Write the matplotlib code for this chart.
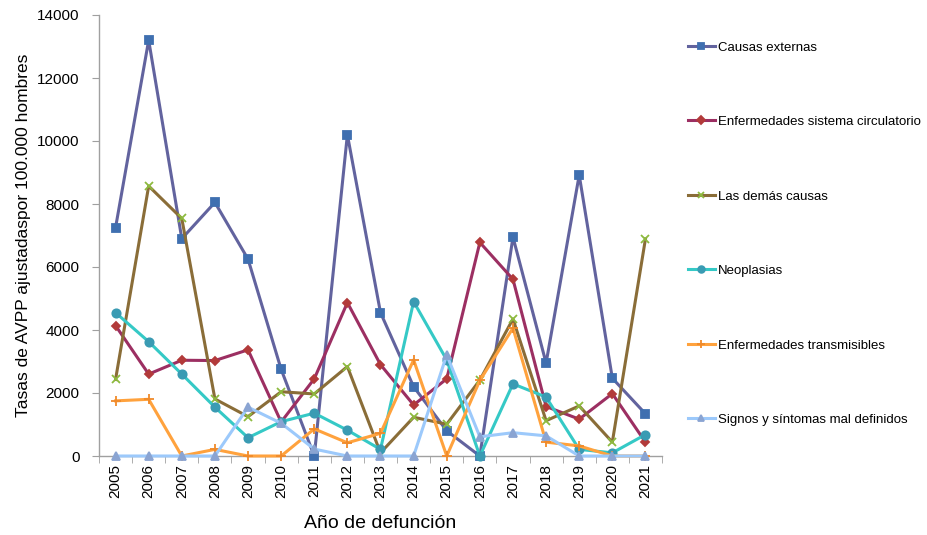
import numpy as np
import matplotlib
matplotlib.use("Agg")
import matplotlib.pyplot as plt
from matplotlib.ticker import FixedLocator

plt.rcParams["font.family"] = ["Liberation Sans", "DejaVu Sans"]

years = [str(y) for y in range(2005, 2022)]

causas_externas = [7250, 13200, 6900, 8050, 6250, 2750, 0, 10200, 4550,
                   2200, 800, 0, 6950, 2950, 8920, 2470, 1340]
circulatorio = [4140, 2600, 3040, 3030, 3370, 1080, 2450, 4870, 2900,
                1620, 2450, 6780, 5610, 1570, 1170, 1980, 440]
demas_causas = [2430, 8570, 7540, 1810, 1250, 2040, 1970, 2840, 100,
                1230, 1010, 2410, 4350, 1120, 1590, 440, 6890]
neoplasias = [4550, 3630, 2600, 1550, 580, 1090, 1360, 820, 210,
              4900, 3050, 0, 2290, 1870, 210, 100, 680]
transmisibles = [1750, 1800, 0, 210, 0, 0, 860, 420, 720,
                 3050, 0, 2400, 4060, 440, 320, 0, 0]
signos = [0, 0, 0, 0, 1550, 1040, 220, 0, 0,
          0, 3210, 610, 740, 640, 0, 0, 0]

series = [
    ("Causas externas", causas_externas, "#62639e", "s", "#3f6fb0", 6),
    ("Enfermedades sistema circulatorio", circulatorio, "#9c2f62", "D", "#b23a3a", 4.5),
    ("Las demás causas", demas_causas, "#8a6d38", "x", "#8dba3e", 6),
    ("Neoplasias", neoplasias, "#35c9c6", "o", "#3a9bb3", 6),
    ("Enfermedades transmisibles", transmisibles, "#ffa23d", "+", "#f08a2a", 7),
    ("Signos y síntomas mal definidos", signos, "#9cc9fb", "^", "#8aa4d2", 6),
]

fig = plt.figure(figsize=(9.27, 5.35), dpi=100)
ax = fig.add_axes([99 / 927, 1 - 456 / 535, (662 - 99) / 927, (456 - 15) / 535])

x = np.arange(len(years))
for label, vals, lc, mk, mc, ms in series:
    ax.plot(x, vals, color=lc, lw=2.2, marker=mk, markersize=ms,
            markerfacecolor=mc, markeredgecolor=mc, markeredgewidth=1.3,
            label=label, clip_on=False, zorder=3)

grey = "#a0a0a0"
ax.set_xlim(-0.5, len(years) - 0.5)
ax.set_ylim(0, 14000)
ax.set_yticks(range(0, 14001, 2000))
ax.tick_params(axis="y", labelsize=11, length=5, color=grey, direction="out", pad=9)
ax.set_xticks(x)
ax.set_xticklabels(years, rotation=90, fontsize=11)
ax.tick_params(axis="x", which="major", length=0, pad=6)
ax.xaxis.set_minor_locator(FixedLocator(np.arange(-0.5, len(years), 1.0)))
ax.tick_params(axis="x", which="minor", length=5, color=grey)

for side in ("top", "right"):
    ax.spines[side].set_visible(False)
for side in ("left", "bottom"):
    ax.spines[side].set_color(grey)
    ax.spines[side].set_linewidth(1)

ax.set_ylabel("Tasas de AVPP ajustadaspor 100.000 hombres", fontsize=12.5, labelpad=4)
ax.set_xlabel("Año de defunción", fontsize=14, labelpad=12)

fig.legend(loc="upper left", bbox_to_anchor=(683 / 927, 1 - 36 / 535),
           frameon=False, fontsize=9.5, labelspacing=4.72, handlelength=2.0,
           handletextpad=0.25, borderaxespad=0, markerscale=0.8)

fig.savefig("out.png", dpi=100)
